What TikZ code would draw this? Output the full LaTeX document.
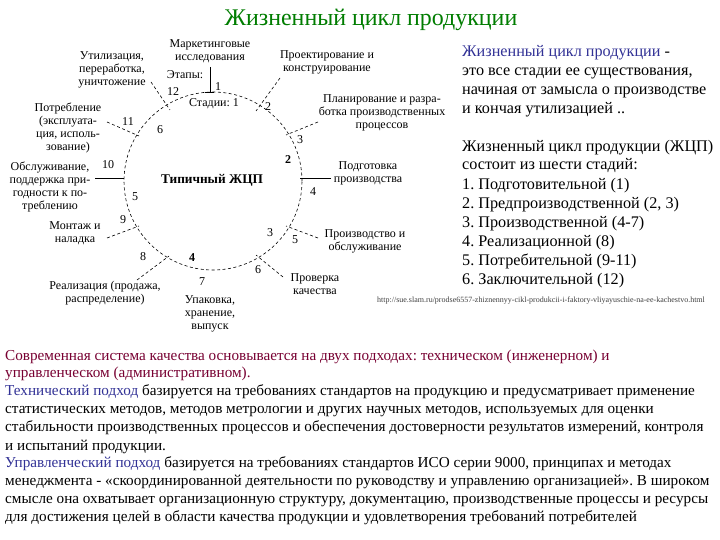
\documentclass[tikz,border=0pt]{standalone}
\usepackage{fontspec}
\setmainfont{Liberation Serif}
\definecolor{ttlgreen}{RGB}{0,125,0}
\definecolor{hdblue}{RGB}{50,50,150}
\definecolor{maroonr}{RGB}{120,0,50}
\begin{document}
\frenchspacing
\begin{tikzpicture}[x=1pt,y=-1pt,
  lbl/.style={align=center,inner sep=0pt,font=\fontsize{12}{13}\selectfont},
  num/.style={inner sep=0pt,font=\fontsize{12}{13}\selectfont},
  bnum/.style={inner sep=0pt,font=\fontsize{12}{13}\selectfont\bfseries},
  tick/.style={line width=0.6pt,dash pattern=on 3pt off 2.5pt},
  solidtick/.style={line width=0.7pt},
  rtext/.style={anchor=base west,inner sep=0pt,font=\fontsize{16.2}{19}\selectfont},
  btext/.style={anchor=base west,inner sep=0pt,font=\fontsize{15.2}{18}\selectfont}]
\useasboundingbox[fill=white] (0,0) rectangle (720,540);

% title
\node[inner sep=0pt,text=ttlgreen,font=\fontsize{23.9}{27}\selectfont] (title) at (371,20) {Жизненный цикл продукции};

% cycle
\node[circle,draw,tick,minimum size=178pt,inner sep=0pt] (cyc) at (213,181) {};
\node[inner sep=0pt,font=\fontsize{13.3}{15}\selectfont\bfseries] (typ) at (212,180) {Типичный ЖЦП};

% outer labels
\node[lbl] (mark) at (210,51) {Маркетинговые\\исследования};
\node[lbl] (etapy) at (185,75) {Этапы:};
\node[lbl] (proj) at (327,62) {Проектирование и\\конструирование};
\node[lbl] (plan) at (382,113) {Планирование и разра-\\ботка производственных\\процессов};
\node[lbl] (podg) at (368,173) {Подготовка\\производства};
\node[lbl] (proizv) at (365,241) {Производство и\\обслуживание};
\node[lbl] (prov) at (315,284) {Проверка\\качества};
\node[lbl] (upak) at (210,314) {Упаковка,\\хранение,\\выпуск};
\node[lbl] (real) at (105,293) {Реализация (продажа,\\распределение)};
\node[lbl] (mont) at (75,233) {Монтаж и\\наладка};
\node[lbl] (obsl) at (50,187) {Обслуживание,\\поддержка при-\\годности к по-\\треблению};
\node[lbl] (potr) at (68,128) {Потребление\\(эксплуата-\\ция, исполь-\\зование)};
\node[lbl] (util) at (112,70) {Утилизация,\\переработка,\\уничтожение};

% stage (etap) numbers
\node[num] (n1) at (218,87) {1};
\node[num] (n2) at (268,107) {2};
\node[num] (n3) at (300,140) {3};
\node[num] (n4) at (313,192) {4};
\node[num] (n5) at (295,240) {5};
\node[num] (n6) at (258,270) {6};
\node[num] (n7) at (202,282) {7};
\node[num] (n8) at (143,257) {8};
\node[num] (n9) at (123,220) {9};
\node[num] (n10) at (108,165) {10};
\node[num] (n11) at (128,122) {11};
\node[num] (n12) at (173,92) {12};

% stadii numbers
\node[num] (s1) at (214,104) {Стадии: 1};
\node[bnum] (s2) at (288,160) {2};
\node[num] (s3) at (270,233) {3};
\node[bnum] (s4) at (192,258) {4};
\node[num] (s5) at (135,197) {5};
\node[num] (s6) at (160,130) {6};

% connector coordinates
\coordinate (a1) at (210,67); \coordinate (b1) at (210,92);
\coordinate (c1l) at (205,92); \coordinate (c1r) at (214,92);
\coordinate (a2) at (280,78); \coordinate (b2) at (256,111);
\coordinate (a3) at (318,122); \coordinate (b3) at (286,135);
\coordinate (a4) at (331,178); \coordinate (b4) at (300,178);
\coordinate (a5) at (318,238); \coordinate (b5) at (286,226);
\coordinate (a6) at (283,277); \coordinate (b6) at (256,255);
\coordinate (a8) at (137,280); \coordinate (b8) at (169,256);
\coordinate (a9) at (107,238); \coordinate (b9) at (139,226);
\coordinate (a10) at (95,178); \coordinate (b10) at (124,178);
\coordinate (a11) at (107,122); \coordinate (b11) at (139,136);
\coordinate (a12) at (151,82); \coordinate (b12) at (170,110);

\draw[solidtick] (a1) -- (b1);
\draw[solidtick] (c1l) -- (c1r);
\draw[solidtick] (a4) -- (b4);
\draw[solidtick] (a10) -- (b10);
\foreach \i in {2,3,5,6,8,9,11,12} \draw[tick] (a\i) -- (b\i);

% right text
\node[rtext,text=hdblue] (r1) at (462,57) {Жизненный цикл продукции \textcolor{black}{-}};
\node[rtext] (r2) at (462,76) {это все стадии ее существования,};
\node[rtext] (r3) at (462,95) {начиная от замысла о производстве};
\node[rtext] (r4) at (462,114) {и кончая утилизацией ..};
\node[rtext] (r5) at (462,152) {Жизненный цикл продукции (ЖЦП)};
\node[rtext] (r6) at (462,170) {состоит из шести стадий:};
\node[rtext] (r7) at (462,190) {1. Подготовительной (1)};
\node[rtext] (r8) at (462,208) {2. Предпроизводственной (2, 3)};
\node[rtext] (r9) at (462,228) {3. Производственной (4-7)};
\node[rtext] (r10) at (462,247) {4. Реализационной (8)};
\node[rtext] (r11) at (462,265) {5. Потребительной (9-11)};
\node[rtext] (r12) at (462,284) {6. Заключительной (12)};

\node[anchor=base west,inner sep=0pt,text=black!75,font=\fontsize{8}{9}\selectfont] (url) at (377,302) {http://sue.slam.ru/prodse6557-zhiznennyy-cikl-produkcii-i-faktory-vliyayuschie-na-ee-kachestvo.html};

% bottom text
\node[btext,text=maroonr] (t1) at (5,360) {Современная система качества основывается на двух подходах: техническом (инженерном) и};
\node[btext,text=maroonr] (t2) at (5,377) {управленческом (административном).};
\node[btext] (t3) at (5,395) {\textcolor{hdblue}{Технический подход} базируется на требованиях стандартов на продукцию и предусматривает применение};
\node[btext] (t4) at (5,413) {статистических методов, методов метрологии и других научных методов, используемых для оценки};
\node[btext] (t5) at (5,431) {стабильности производственных процессов и обеспечения достоверности результатов измерений, контроля};
\node[btext] (t6) at (5,450) {и испытаний продукции.};
\node[btext] (t7) at (5,467) {\textcolor{hdblue}{Управленческий подход} базируется на требованиях стандартов ИСО серии 9000, принципах и методах};
\node[btext] (t8) at (5,485) {менеджмента - «скоординированной деятельности по руководству и управлению организацией». В широком};
\node[btext] (t9) at (5,503) {смысле она охватывает организационную структуру, документацию, производственные процессы и ресурсы};
\node[btext] (t10) at (5,521) {для достижения целей в области качества продукции и удовлетворения требований потребителей};
\end{tikzpicture}
\end{document}
